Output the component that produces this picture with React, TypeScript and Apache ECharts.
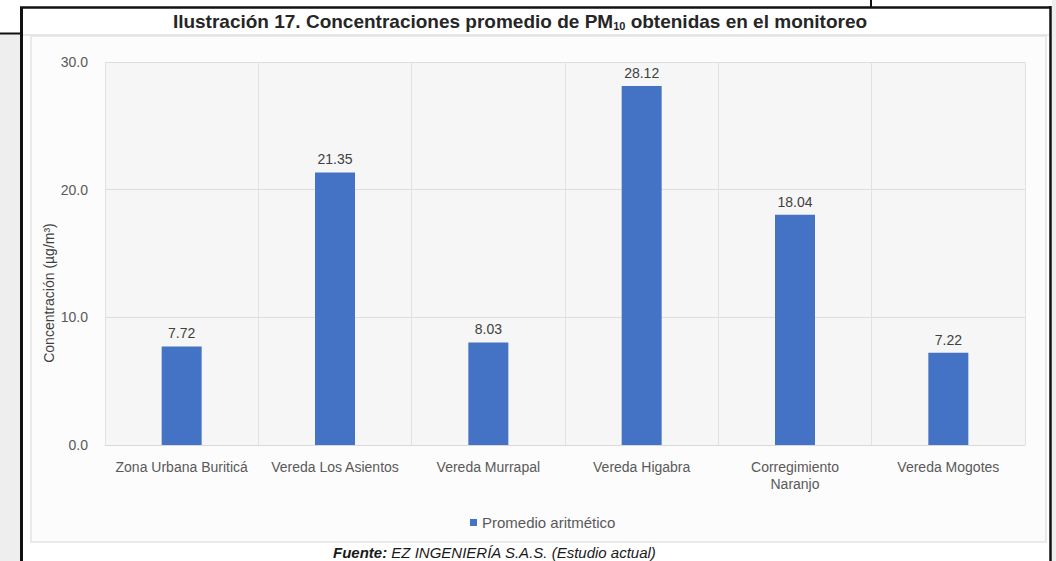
import React, { useEffect, useRef } from "react";
import * as echarts from "echarts";

const categories = [
  "Zona Urbana Buriticá",
  "Vereda Los Asientos",
  "Vereda Murrapal",
  "Vereda Higabra",
  "Corregimiento\nNaranjo",
  "Vereda Mogotes",
];
const values = [7.72, 21.35, 8.03, 28.12, 18.04, 7.22];
const seriesName = "Promedio aritmético";
const yTicks = { min: 0, max: 30, interval: 10 };
const yTitle = "Concentración (µg/m³)";
const fontFam = "'Liberation Sans', Arial, sans-serif";

export default function App() {
  const ref = useRef<HTMLDivElement>(null);
  useEffect(() => {
    if (!ref.current) return;
    const chart = echarts.init(ref.current, undefined, { renderer: "svg" });
    chart.setOption({
      animation: false,
      backgroundColor: "#ffffff",
      textStyle: { fontFamily: fontFam },
      graphic: [
        { type: "rect", silent: true, z: -10, shape: { x: 0, y: 33, width: 21, height: 528 }, style: { fill: "#eeeeee" } },
        { type: "rect", silent: true, z: -10, shape: { x: 1052, y: 0, width: 4, height: 561 }, style: { fill: "#eeeeee" } },
        { type: "rect", silent: true, z: -10, shape: { x: 31, y: 36, width: 1015, height: 506 }, style: { fill: "#fcfcfc", stroke: "#e4e4e4", lineWidth: 1.5 } },
        { type: "line", silent: true, shape: { x1: 23, y1: 35, x2: 1049, y2: 35 }, style: { stroke: "#e0e0e0", lineWidth: 1.5 } },
        { type: "line", silent: true, z: 10, shape: { x1: 21.5, y1: 7, x2: 21.5, y2: 561 }, style: { stroke: "#111", lineWidth: 3 } },
        { type: "line", silent: true, z: 10, shape: { x1: 20, y1: 7.5, x2: 1051, y2: 7.5 }, style: { stroke: "#111", lineWidth: 2.5 } },
        { type: "line", silent: true, z: 10, shape: { x1: 1050.5, y1: 6, x2: 1050.5, y2: 561 }, style: { stroke: "#111", lineWidth: 2.5 } },
        { type: "line", silent: true, z: 10, shape: { x1: 0, y1: 33.5, x2: 21, y2: 33.5 }, style: { stroke: "#111", lineWidth: 2 } },
        { type: "line", silent: true, z: 10, shape: { x1: 871, y1: 0, x2: 871, y2: 7 }, style: { stroke: "#111", lineWidth: 2 } },
        {
          type: "text",
          x: 520,
          y: 21,
          style: {
            text: "Ilustración 17. Concentraciones promedio de PM{sub|10} obtenidas en el monitoreo",
            align: "center",
            verticalAlign: "middle",
            fontFamily: fontFam,
            fontWeight: "bold",
            fontSize: 19,
            fill: "#262626",
            rich: {
              sub: { fontSize: 11, fontWeight: "bold", fill: "#262626", padding: [9, 0, 0, 0], fontFamily: fontFam },
            },
          },
        },
        {
          type: "text",
          x: 49,
          y: 293,
          rotation: Math.PI / 2,
          style: {
            text: yTitle,
            align: "center",
            verticalAlign: "middle",
            fontFamily: fontFam,
            fontSize: 14,
            fill: "#404040",
          },
        },
        {
          type: "text",
          x: 333,
          y: 545,
          style: {
            text: "{b|Fuente:} EZ INGENIERÍA S.A.S. (Estudio actual)",
            fontFamily: fontFam,
            fontStyle: "italic",
            fontSize: 15,
            fill: "#1a1a1a",
            verticalAlign: "top",
            rich: { b: { fontWeight: "bold", fontStyle: "italic", fontSize: 15, fill: "#1a1a1a", fontFamily: fontFam } },
          },
        },
      ],
      grid: {
        left: 105,
        right: 31,
        top: 62,
        bottom: 116,
        show: true,
        backgroundColor: "#f6f6f6",
        borderWidth: 0,
      },
      legend: {
        left: 465,
        top: 510,
        itemWidth: 7,
        itemHeight: 7,
        icon: "rect",
        itemGap: 6,
        textStyle: { color: "#595959", fontSize: 15, fontFamily: fontFam },
        data: [seriesName],
      },
      xAxis: {
        type: "category",
        data: categories,
        axisTick: { show: false },
        axisLine: { lineStyle: { color: "#d9d9d9" } },
        splitLine: { show: true, interval: 0, lineStyle: { color: "#e2e2e2" } },
        axisLabel: { interval: 0, color: "#595959", fontSize: 14, margin: 13, lineHeight: 17 },
      },
      yAxis: {
        type: "value",
        min: yTicks.min,
        max: yTicks.max,
        interval: yTicks.interval,
        axisLine: { show: false },
        axisTick: { show: false },
        splitLine: { lineStyle: { color: "#dedede" } },
        axisLabel: { color: "#595959", fontSize: 14, margin: 17, formatter: (v: number) => v.toFixed(1) },
      },
      series: [
        {
          name: seriesName,
          type: "bar",
          data: values,
          barWidth: 40,
          itemStyle: { color: "#4472c4" },
          label: {
            show: true,
            position: "top",
            distance: 6,
            color: "#404040",
            fontSize: 14,
            formatter: (p: any) => Number(p.value).toFixed(2),
          },
        },
      ],
    });
    return () => chart.dispose();
  }, []);
  return <div ref={ref} style={{ position: "fixed", left: 0, top: 0, width: 1056, height: 561 }} />;
}
